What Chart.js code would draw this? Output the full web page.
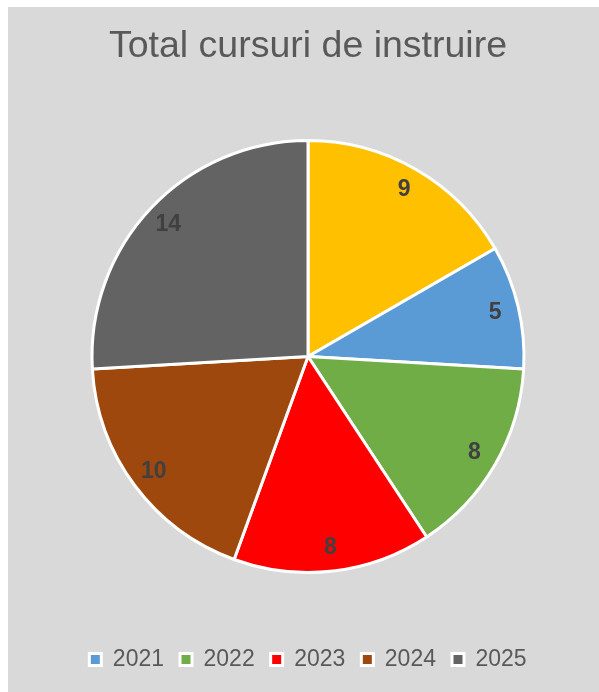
<!DOCTYPE html>
<html>
<head>
<meta charset="utf-8">
<script src="https://cdn.jsdelivr.net/npm/chart.js@4"></script>
<style>
  html, body { margin: 0; padding: 0; background: #ffffff; }
  #box { position: absolute; left: 8px; top: 7px; width: 591px; height: 685px; background: #d9d9d9; }
</style>
</head>
<body>
<div id="box"><canvas id="myChart" width="591" height="685"></canvas></div>
<script>
// data
const categories = ["", "2021", "2022", "2023", "2024", "2025"];
const courses = [9, 5, 8, 8, 10, 14];
const sliceColors = ["#FFC000", "#5B9BD5", "#70AD47", "#FF0000", "#9E480E", "#636363"];

// value labels inside the slices
const valueLabels = {
  id: "valueLabels",
  afterDatasetsDraw(chart) {
    const ctx = chart.ctx;
    const meta = chart.getDatasetMeta(0);
    ctx.save();
    ctx.font = "bold 23px 'Liberation Sans', Arial, sans-serif";
    ctx.fillStyle = "#404040";
    ctx.textAlign = "center";
    ctx.textBaseline = "middle";
    meta.data.forEach((arc, i) => {
      const p = arc.getProps(["x", "y", "startAngle", "endAngle", "outerRadius"], true);
      const mid = (p.startAngle + p.endAngle) / 2;
      const r = p.outerRadius * 0.89;
      ctx.fillText(courses[i], p.x + Math.cos(mid) * r, p.y + Math.sin(mid) * r);
    });
    ctx.restore();
  }
};

new Chart("myChart", {
  type: "pie",
  data: {
    labels: categories,
    datasets: [{
      data: courses,
      backgroundColor: sliceColors,
      borderColor: "#ffffff",
      borderWidth: 3,
      radius: 216
    }]
  },
  options: {
    responsive: false,
    animation: false,
    layout: { padding: { left: 9, right: 0, top: 0, bottom: 11 } },
    plugins: {
      title: {
        display: true,
        text: "Total cursuri de instruire",
        color: "#595959",
        font: { family: "'Liberation Sans', Arial, sans-serif", size: 37.5, weight: "normal" },
        padding: { top: 17, bottom: 12 }
      },
      legend: {
        position: "bottom",
        labels: {
          color: "#595959",
          font: { family: "'Liberation Sans', Arial, sans-serif", size: 23 },
          boxWidth: 12,
          boxHeight: 12,
          padding: 16,
          filter: (item) => item.index !== 0
        }
      },
      tooltip: { enabled: false }
    }
  },
  plugins: [valueLabels]
});
</script>
</body>
</html>
